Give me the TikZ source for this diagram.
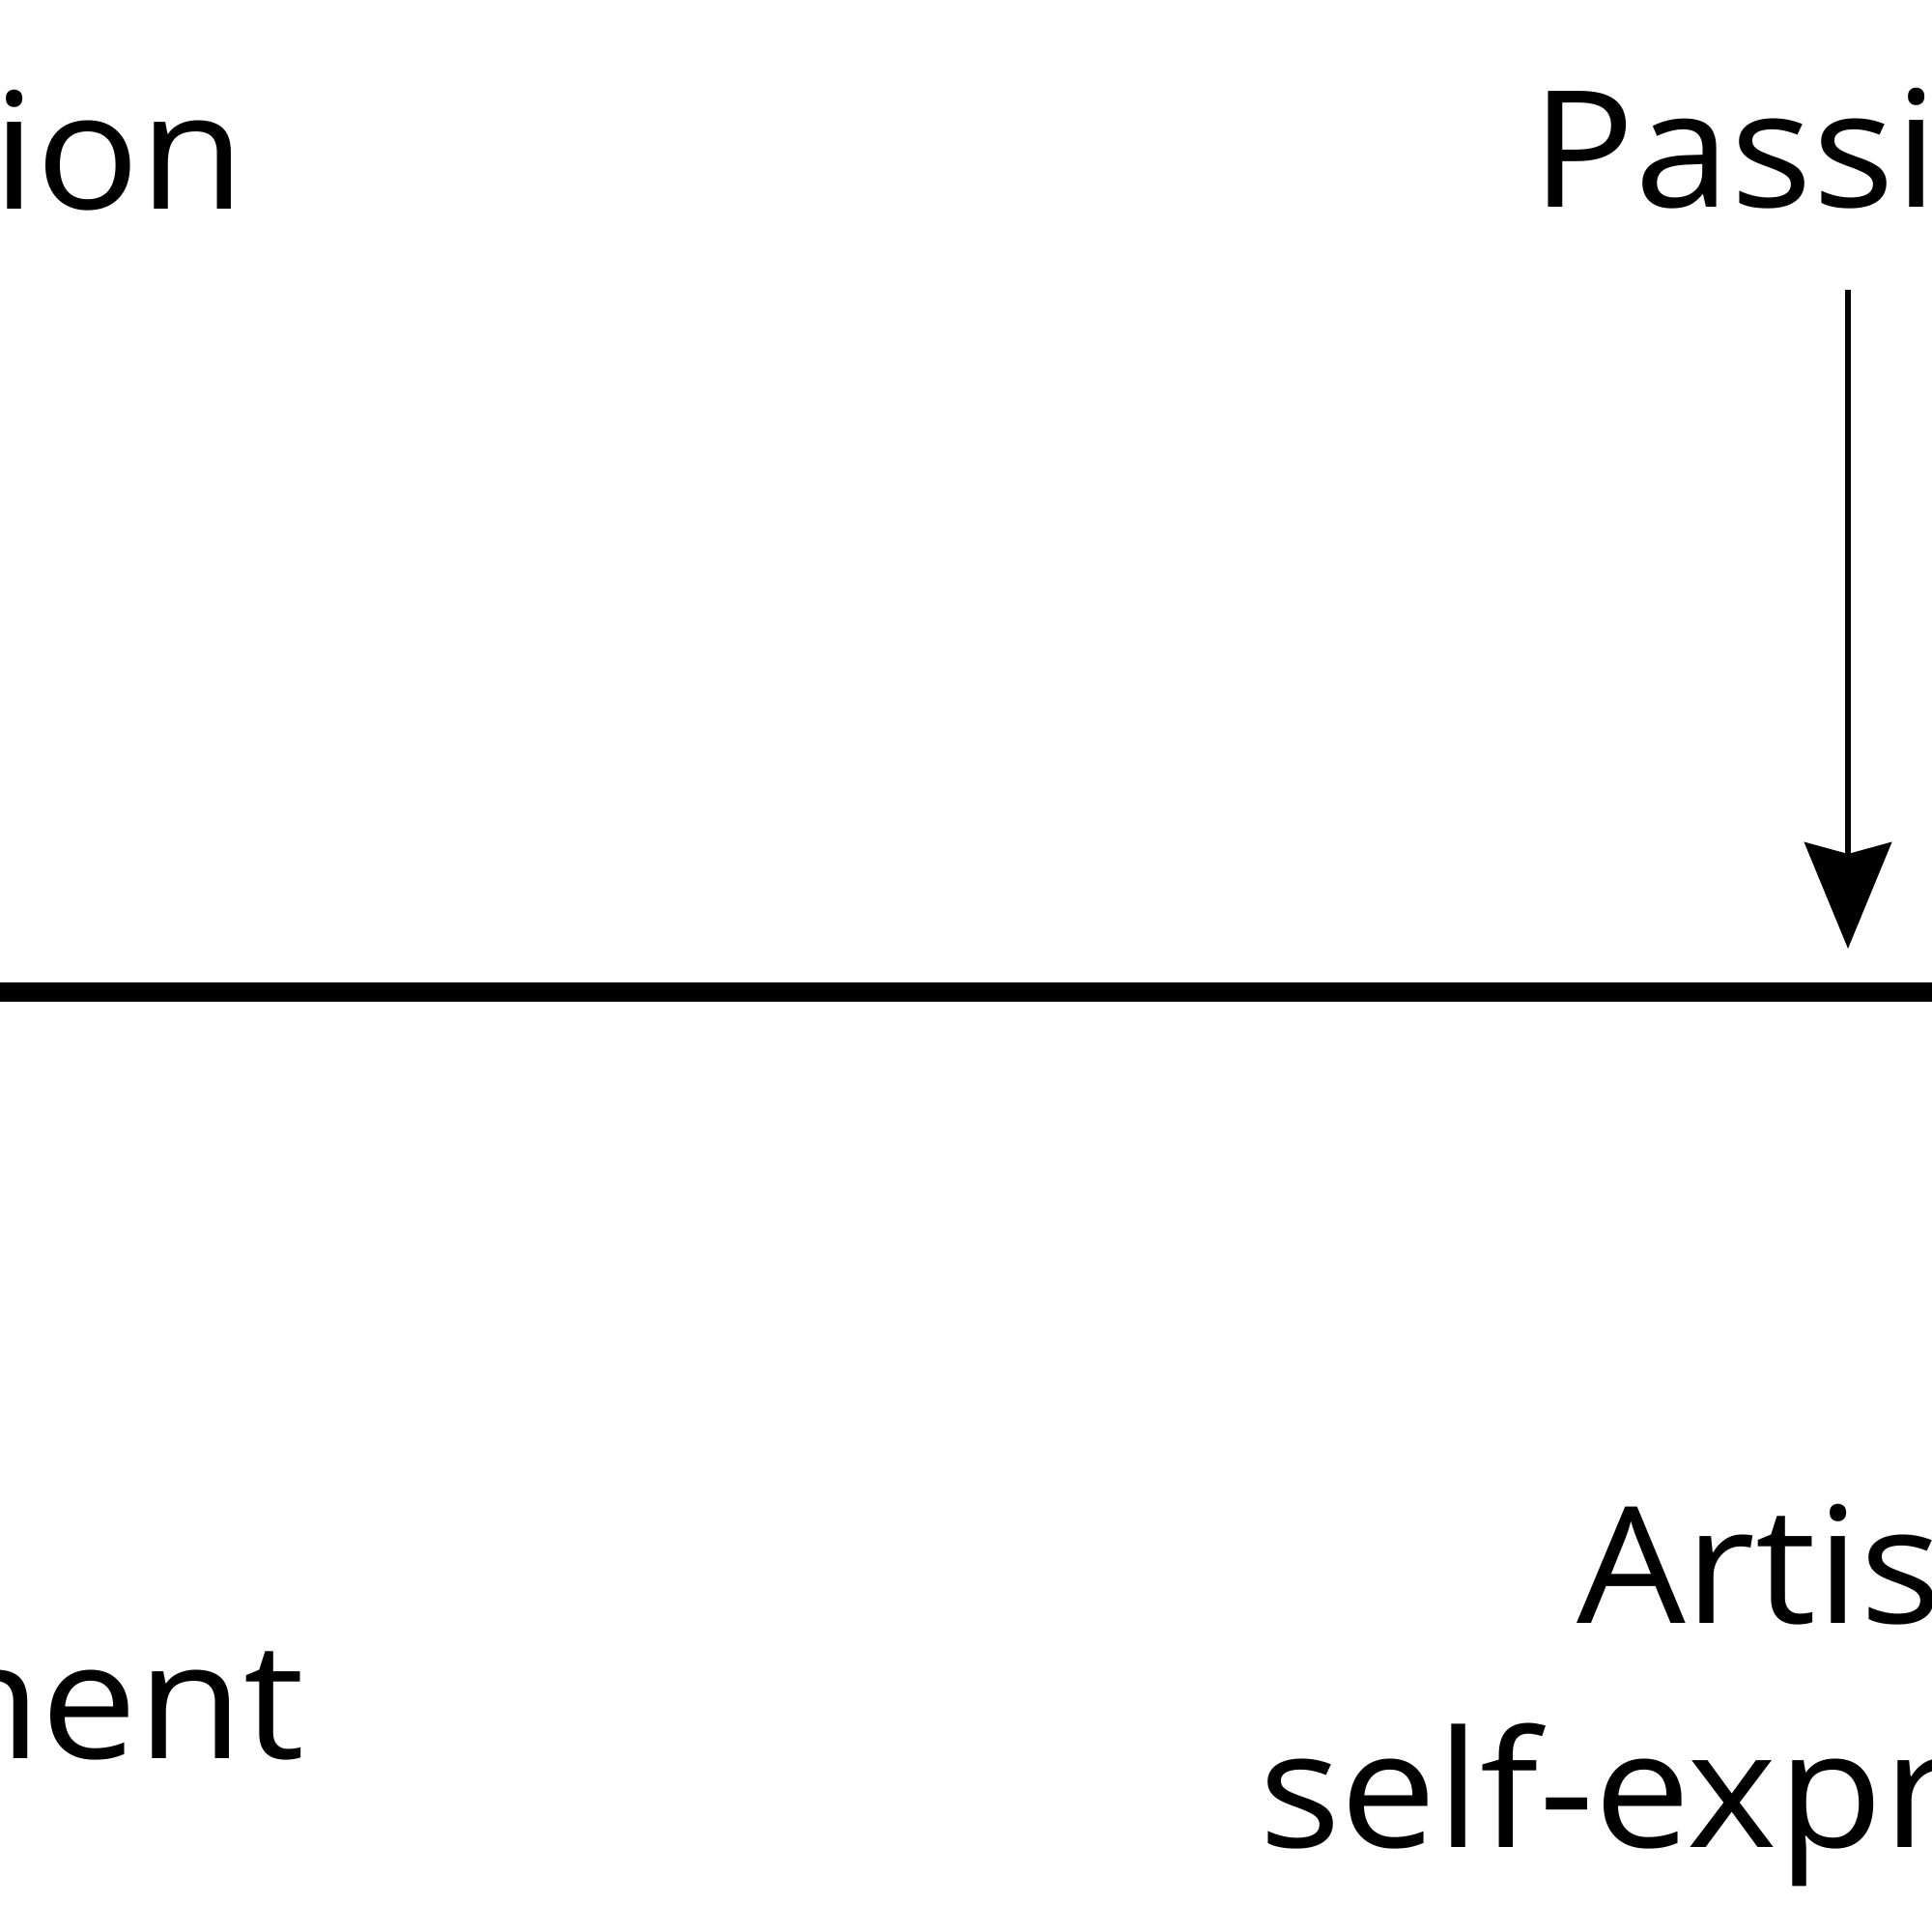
\documentclass[tikz,border=0pt]{standalone}
\usepackage{fontspec}
\setmainfont{Open Sans}
\usetikzlibrary{arrows.meta}
\tikzset{
  lbl/.style={inner sep=0pt, outer sep=0pt, xscale=1.06, transform shape, font=\fontsize{47.8}{57}\selectfont, text=black},
  axisline/.style={line width=5.8pt, black},
  pointer/.style={line width=1.7pt, black, -{Stealth[length=1.1cm, width=0.9cm, inset=0.12cm]}}
}
\begin{document}
\begin{tikzpicture}
\useasboundingbox (0,0) rectangle (20,20);
\clip (0,0) rectangle (20,20);
\fill[white] (0,0) rectangle (20,20);
% texts
\node[lbl, anchor=base east] (mission) at (2.54,17.83) {ion};
\node[lbl, anchor=base west] (passion) at (15.85,17.85) {Passi};
\node[lbl, anchor=base east] (left) at (3.15,1.79) {ment};
\node[lbl, anchor=base west] (art1) at (16.32,3.19) {Artis};
\node[lbl, anchor=base west] (art2) at (13.03,0.87) {self-expr};
% axis
\coordinate (axL) at (-0.5,9.73);
\coordinate (axR) at (20.5,9.73);
\draw[axisline] (axL) -- (axR);
% arrow
\coordinate (arS) at (19.13,17.0);
\coordinate (arE) at (19.13,10.18);
\draw[pointer] (arS) -- (arE);
\end{tikzpicture}
\end{document}
